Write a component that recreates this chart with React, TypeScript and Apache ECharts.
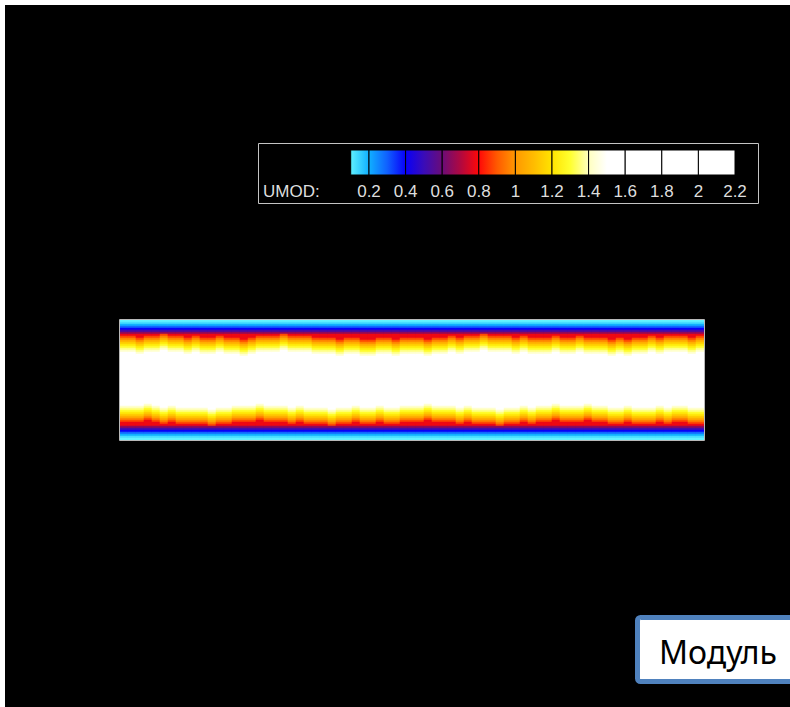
import React, { useEffect, useRef } from "react";
import * as echarts from "echarts";

// Velocity magnitude (UMOD) across the channel, from the wall towards the centreline (2 px rows)
const PROFILE = [
  0.08, 0.13, 0.2, 0.29, 0.4, 0.52, 0.65, 0.78, 0.88, 0.97, 1.06, 1.14, 1.22, 1.29, 1.36,
  1.42, 1.5, 1.6, 1.7, 1.78, 1.84, 1.89, 1.93, 1.96, 1.99, 2.01, 2.03, 2.04, 2.05, 2.06,
];
// rows next to the wall that keep the same values all along the channel
const WALL_ROWS = 7;

// Local thickening of the outer wall layer along the channel, in rows, for each column
const TOP_SHIFT = [
  0, 0, 1, 0, 0, -1, 0, 0, 1, 0,
  1, 1, 0, 1, 1, 2, 1, 0, 0, 0,
  -1, 0, 0, 0, 1, 1, 1, 2, 1, 1,
  2, 2, 1, 1, 2, 1, 1, 1, 2, 1,
  1, 0, 1, 0, 0, -1, 0, 0, 0, 1,
  0, 1, 1, 1, 0, 1, 1, 0, 1, 1,
  1, 2, 1, 2, 1, 1, 0, 1, 0, 0,
  0, 1, 0,
];
const BOTTOM_SHIFT = [
  1, 1, 1, 2, 1, 0, 1, 0, 0, 0,
  0, -1, 0, 0, 1, 1, 1, 2, 1, 1,
  1, 0, 1, 0, 0, 0, -1, 0, 0, 1,
  0, 0, 1, 0, 0, 1, 1, 1, 2, 1,
  1, 1, 0, 1, 0, 0, 0, -1, 0, 0,
  1, 0, 1, 1, 2, 1, 1, 1, 2, 1,
  1, 0, 0, 1, 0, 0, 0, 1, 0, 1,
  1, 0, 0,
];
const ROWS = 60;

// Colour scale, one colour every 0.1 from 0 to 2.2
const SCALE_MIN = 0;
const SCALE_MAX = 2.2;
const COLOR_STOPS = [
  "#7ffaff", "#5ef0ff", "#10b0ff", "#1060ff", "#0800f8", "#3a0cb8", "#6a0c78", "#b00840",
  "#ff0808", "#ff5a00", "#ff9800", "#ffbc00", "#ffe400", "#ffff30", "#ffffc0", "#ffffff",
  "#ffffff", "#ffffff", "#ffffff", "#ffffff", "#ffffff", "#ffffff", "#ffffff",
];
const LEGEND_LEVELS = [0.1, 0.2, 0.4, 0.6, 0.8, 1, 1.2, 1.4, 1.6, 1.8, 2, 2.2];
const LEGEND_TITLE = "UMOD:";
const CAPTION = "Модуль";

function buildCells(): number[][] {
  const cells: number[][] = [];
  const cols = TOP_SHIFT.length;
  for (let c = 0; c < cols; c++) {
    for (let j = 0; j < ROWS; j++) {
      const top = j < ROWS / 2;
      const d = top ? j : ROWS - 1 - j;
      const shift = top ? TOP_SHIFT[c] : BOTTOM_SHIFT[c];
      const idx = d < WALL_ROWS ? d : Math.max(WALL_ROWS, d - shift);
      cells.push([c, j, PROFILE[Math.min(PROFILE.length - 1, idx)]]);
    }
  }
  return cells;
}

function gradientFor(a: number, b: number) {
  const step = (SCALE_MAX - SCALE_MIN) / (COLOR_STOPS.length - 1);
  const stops: { offset: number; color: string }[] = [];
  COLOR_STOPS.forEach((color, i) => {
    const v = SCALE_MIN + i * step;
    if (v >= a - 1e-6 && v <= b + 1e-6) {
      stops.push({ offset: (v - a) / (b - a), color });
    }
  });
  return new echarts.graphic.LinearGradient(0, 0, 1, 0, stops);
}

export default function App() {
  const ref = useRef<HTMLDivElement>(null);

  useEffect(() => {
    if (!ref.current) return;
    const chart = echarts.init(ref.current, null, { renderer: "svg" });

    // colour bar geometry
    const barLeft = 369;
    const barTop = 150;
    const barH = 25;
    const pxPerUnit = 183;
    const xOf = (v: number) => barLeft + (v - 0.2) * pxPerUnit;

    const legendBoxes: any[] = [];
    for (let k = 0; k < LEGEND_LEVELS.length - 1; k++) {
      const a = LEGEND_LEVELS[k];
      const b = LEGEND_LEVELS[k + 1];
      legendBoxes.push({
        type: "rect",
        shape: { x: xOf(a), y: barTop, width: xOf(b) - xOf(a), height: barH },
        style: { fill: gradientFor(a, b), stroke: "#000", lineWidth: 1 },
        z: 10,
      });
    }
    const legendLabels = LEGEND_LEVELS.slice(1).map((v) => ({
      type: "text",
      x: xOf(v),
      y: 191,
      style: {
        text: String(v),
        fill: "#dedede",
        font: "17px 'Liberation Sans', Arial, sans-serif",
        align: "center",
        verticalAlign: "middle",
      },
      z: 10,
    }));

    const xCats = TOP_SHIFT.map((_, i) => String(i));
    const yCats = Array.from({ length: ROWS }, (_, i) => String(i));

    chart.setOption({
      animation: false,
      backgroundColor: "#ffffff",
      grid: { left: 120, top: 320, width: 584, height: 120, show: false },
      xAxis: { type: "category", data: xCats, show: false },
      yAxis: { type: "category", data: yCats, show: false, inverse: true },
      visualMap: {
        type: "continuous",
        show: false,
        min: SCALE_MIN,
        max: SCALE_MAX,
        dimension: 2,
        seriesIndex: 0,
        inRange: { color: COLOR_STOPS },
      },
      series: [
        {
          type: "heatmap",
          data: buildCells(),
          progressive: 0,
          itemStyle: { borderWidth: 0 },
          emphasis: { disabled: true },
          z: 5,
        },
      ],
      graphic: [
        {
          type: "rect",
          shape: { x: 5, y: 5, width: 785, height: 702 },
          style: { fill: "#000000" },
          z: -10,
          silent: true,
        },
        {
          type: "rect",
          shape: { x: 119.5, y: 319.5, width: 585, height: 121 },
          style: { fill: "transparent", stroke: "#b8b8b8", lineWidth: 1 },
          z: 20,
        },
        {
          type: "rect",
          shape: { x: 258.5, y: 143.5, width: 500, height: 60 },
          style: { fill: "transparent", stroke: "#c4c4c4", lineWidth: 1 },
          z: 10,
        },
        {
          type: "text",
          x: 263,
          y: 191,
          style: {
            text: LEGEND_TITLE,
            fill: "#dedede",
            font: "17px 'Liberation Sans', Arial, sans-serif",
            verticalAlign: "middle",
          },
          z: 10,
        },
        ...legendBoxes,
        ...legendLabels,
        {
          type: "rect",
          shape: { x: 637.5, y: 617.5, width: 170, height: 64, r: 3 },
          style: { fill: "#ffffff", stroke: "#4f81bd", lineWidth: 5 },
          z: 10,
        },
        {
          type: "text",
          x: 659,
          y: 651,
          style: {
            text: CAPTION,
            fill: "#000000",
            font: "32px 'Noto Sans', sans-serif",
            verticalAlign: "middle",
          },
          z: 11,
        },
      ],
    });

    return () => chart.dispose();
  }, []);

  return (
    <div
      ref={ref}
      style={{ position: "fixed", left: 0, top: 0, width: 790, height: 707 }}
    />
  );
}
